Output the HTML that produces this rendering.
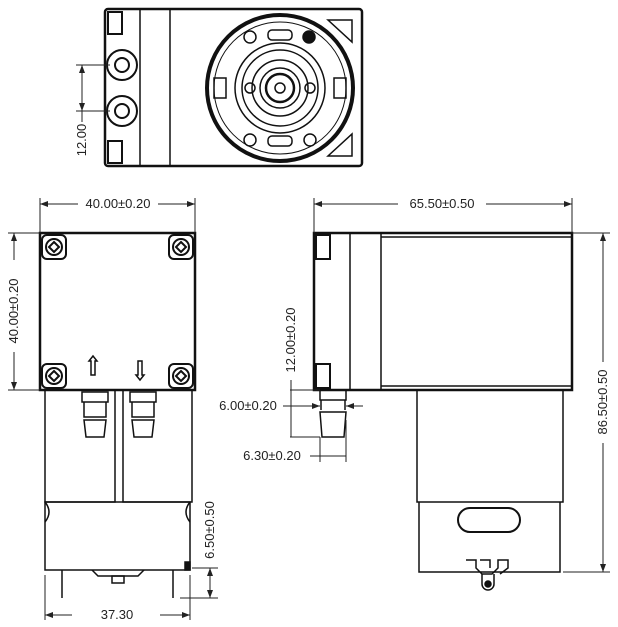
<!DOCTYPE html>
<html><head><meta charset="utf-8"><style>
html,body{margin:0;padding:0;background:#fff;}
svg{display:block;}
text{font-family:"Liberation Sans",sans-serif;font-size:13px;fill:#222;}
</style></head><body>
<svg width="618" height="627" viewBox="0 0 618 627" xmlns="http://www.w3.org/2000/svg">
<defs>
<marker id="a" markerWidth="8" markerHeight="6" refX="8" refY="3" orient="auto-start-reverse"><path d="M0,0 L8,3 L0,6 z" fill="#222"/></marker>
</defs>
<g fill="none" stroke="#111" stroke-width="1.5">
<!-- TOP VIEW -->
<rect x="105" y="9" width="257" height="157" rx="3" stroke-width="2.5"/>
<line x1="140" y1="9" x2="140" y2="166"/>
<line x1="170" y1="9" x2="170" y2="166"/>
<rect x="108" y="12" width="14" height="22" stroke-width="2"/>
<rect x="108" y="141" width="14" height="22" stroke-width="2"/>
<circle cx="122" cy="65" r="15" stroke-width="2"/><circle cx="122" cy="65" r="7" stroke-width="2"/>
<circle cx="122" cy="111" r="15" stroke-width="2"/><circle cx="122" cy="111" r="7" stroke-width="2"/>
<circle cx="280" cy="88" r="73" stroke-width="4"/>
<circle cx="280" cy="88" r="66" stroke-width="1"/>
<circle cx="280" cy="88" r="45"/>
<circle cx="280" cy="88" r="38"/>
<circle cx="280" cy="88" r="28"/>
<circle cx="280" cy="88" r="20"/>
<circle cx="280" cy="88" r="14" stroke-width="2.5"/>
<circle cx="280" cy="88" r="5"/>
<circle cx="250" cy="88" r="5"/><circle cx="310" cy="88" r="5"/>
<circle cx="250" cy="37" r="6"/><circle cx="310" cy="140" r="6"/><circle cx="250" cy="140" r="6"/>
<circle cx="309" cy="37" r="6" fill="#111"/>
<rect x="268" y="30" width="24" height="10" rx="4"/>
<rect x="268" y="136" width="24" height="10" rx="4"/>
<rect x="214" y="78" width="12" height="20"/>
<rect x="334" y="78" width="12" height="20"/>
<path d="M328,20 L352,20 L352,42 z"/>
<path d="M328,156 L352,156 L352,134 z"/>
<!-- FRONT VIEW -->
<rect x="40" y="233" width="155" height="157" stroke-width="2.5"/>
<g stroke-width="2">
<rect x="42" y="235" width="24" height="24" rx="5"/><rect x="169" y="235" width="24" height="24" rx="5"/>
<rect x="42" y="364" width="24" height="24" rx="5"/><rect x="169" y="364" width="24" height="24" rx="5"/>
<circle cx="54" cy="247" r="8"/><circle cx="181" cy="247" r="8"/><circle cx="54" cy="376" r="8"/><circle cx="181" cy="376" r="8"/>
<path d="M54,242 l5,5 -5,5 -5,-5z M181,242 l5,5 -5,5 -5,-5z M54,371 l5,5 -5,5 -5,-5z M181,371 l5,5 -5,5 -5,-5z"/>
</g>
<path d="M93,356 l4,5 h-2 v14 h-4 v-14 h-2 z"/>
<path d="M140,380 l4,-5 h-2 v-14 h-4 v14 h-2 z"/>
<path d="M45,390 V502 H115 V390 M123,390 V502 H192 V390"/>
<path d="M82,392 h26 v10 h-26z M84,402 v15 h22 v-15 M84,420 l2,17 h18 l2,-17z"/>
<path d="M130,392 h26 v10 h-26z M132,402 v15 h22 v-15 M132,420 l2,17 h18 l2,-17z"/>
<path d="M45,502 h145 v68 h-145z"/>
<path d="M45,502 q8,10 0,20 M190,502 q-8,10 0,20"/>
<path d="M92,570 l6,6 h40 l6,-6"/>
<rect x="112" y="576" width="12" height="7"/>
<line x1="62" y1="570" x2="62" y2="598"/><line x1="173" y1="570" x2="173" y2="598"/>
<rect x="185" y="562" width="5" height="8" fill="#111"/>
<!-- SIDE VIEW -->
<rect x="314" y="233" width="258" height="157" stroke-width="2.5"/>
<line x1="350" y1="233" x2="350" y2="390"/>
<line x1="381" y1="233" x2="381" y2="390"/>
<line x1="381" y1="237" x2="572" y2="237"/>
<line x1="381" y1="386" x2="572" y2="386"/>
<rect x="316" y="235" width="14" height="24" stroke-width="2"/>
<rect x="316" y="364" width="14" height="24" stroke-width="2"/>
<path d="M320,390 v10 h26 v-10 M320,400 h26 M321,400 v10 M345,400 v10 M320,412 l2,25 h22 l2,-25z"/>
<path d="M417,390 V502 H563 V390"/>
<path d="M419,502 V572 H560 V502"/>
<rect x="458" y="508" width="62" height="24" rx="12" stroke-width="2"/>
<path d="M466,560 h10 v8 l6,6 h10 l6,-6 v-8 h10 v8 l-8,6"/>
<path d="M480,560 h10 v8"/>
<path d="M482,574 v10 a6,6 0 0 0 12,0 v-10"/>
<circle cx="488" cy="584" r="3" fill="#111"/>
</g>
<!-- Dimension lines -->
<g stroke="#222" stroke-width="1" fill="none">
<line x1="82" y1="65" x2="82" y2="111" marker-start="url(#a)" marker-end="url(#a)"/>
<line x1="76" y1="65" x2="110" y2="65"/><line x1="76" y1="111" x2="110" y2="111"/>
<line x1="82" y1="111" x2="82" y2="122"/>
<line x1="40" y1="198" x2="40" y2="233"/><line x1="195" y1="198" x2="195" y2="233"/>
<line x1="40" y1="204" x2="78" y2="204" marker-start="url(#a)"/>
<line x1="158" y1="204" x2="195" y2="204" marker-end="url(#a)"/>
<line x1="8" y1="233" x2="40" y2="233"/><line x1="8" y1="390" x2="40" y2="390"/>
<line x1="14" y1="233" x2="14" y2="260" marker-start="url(#a)"/>
<line x1="14" y1="352" x2="14" y2="390" marker-end="url(#a)"/>
<line x1="45" y1="575" x2="45" y2="620"/><line x1="190" y1="575" x2="190" y2="620"/>
<line x1="45" y1="615" x2="72" y2="615" marker-start="url(#a)"/>
<line x1="160" y1="615" x2="190" y2="615" marker-end="url(#a)"/>
<line x1="192" y1="568" x2="218" y2="568"/><line x1="180" y1="598" x2="218" y2="598"/>
<line x1="210" y1="568" x2="210" y2="598" marker-start="url(#a)" marker-end="url(#a)"/>
<line x1="314" y1="198" x2="314" y2="233"/><line x1="572" y1="198" x2="572" y2="233"/>
<line x1="314" y1="204" x2="398" y2="204" marker-start="url(#a)"/>
<line x1="486" y1="204" x2="572" y2="204" marker-end="url(#a)"/>
<line x1="572" y1="233" x2="610" y2="233"/><line x1="563" y1="572" x2="610" y2="572"/>
<line x1="603" y1="233" x2="603" y2="362" marker-start="url(#a)"/>
<line x1="603" y1="443" x2="603" y2="572" marker-end="url(#a)"/>
<line x1="290" y1="390" x2="320" y2="390"/><line x1="290" y1="437" x2="320" y2="437"/>
<line x1="291" y1="380" x2="291" y2="437"/>
<line x1="283" y1="406" x2="320" y2="406" marker-end="url(#a)"/>
<line x1="363" y1="406" x2="346" y2="406" marker-end="url(#a)"/>
<line x1="320" y1="437" x2="320" y2="462"/><line x1="346" y1="420" x2="346" y2="462"/>
<line x1="310" y1="456" x2="346" y2="456"/>
</g>
<text x="82" y="140" transform="rotate(-90 82 140)" text-anchor="middle" dy="4">12.00</text>
<text x="118" y="208" text-anchor="middle">40.00±0.20</text>
<text x="14" y="311" transform="rotate(-90 14 311)" text-anchor="middle" dy="4">40.00±0.20</text>
<text x="117" y="619" text-anchor="middle">37.30</text>
<text x="210" y="530" transform="rotate(-90 210 530)" text-anchor="middle" dy="4">6.50±0.50</text>
<text x="442" y="208" text-anchor="middle">65.50±0.50</text>
<text x="603" y="402" transform="rotate(-90 603 402)" text-anchor="middle" dy="4">86.50±0.50</text>
<text x="291" y="340" transform="rotate(-90 291 340)" text-anchor="middle" dy="4">12.00±0.20</text>
<text x="248" y="410" text-anchor="middle">6.00±0.20</text>
<text x="272" y="460" text-anchor="middle">6.30±0.20</text>
</svg>
</body></html>
